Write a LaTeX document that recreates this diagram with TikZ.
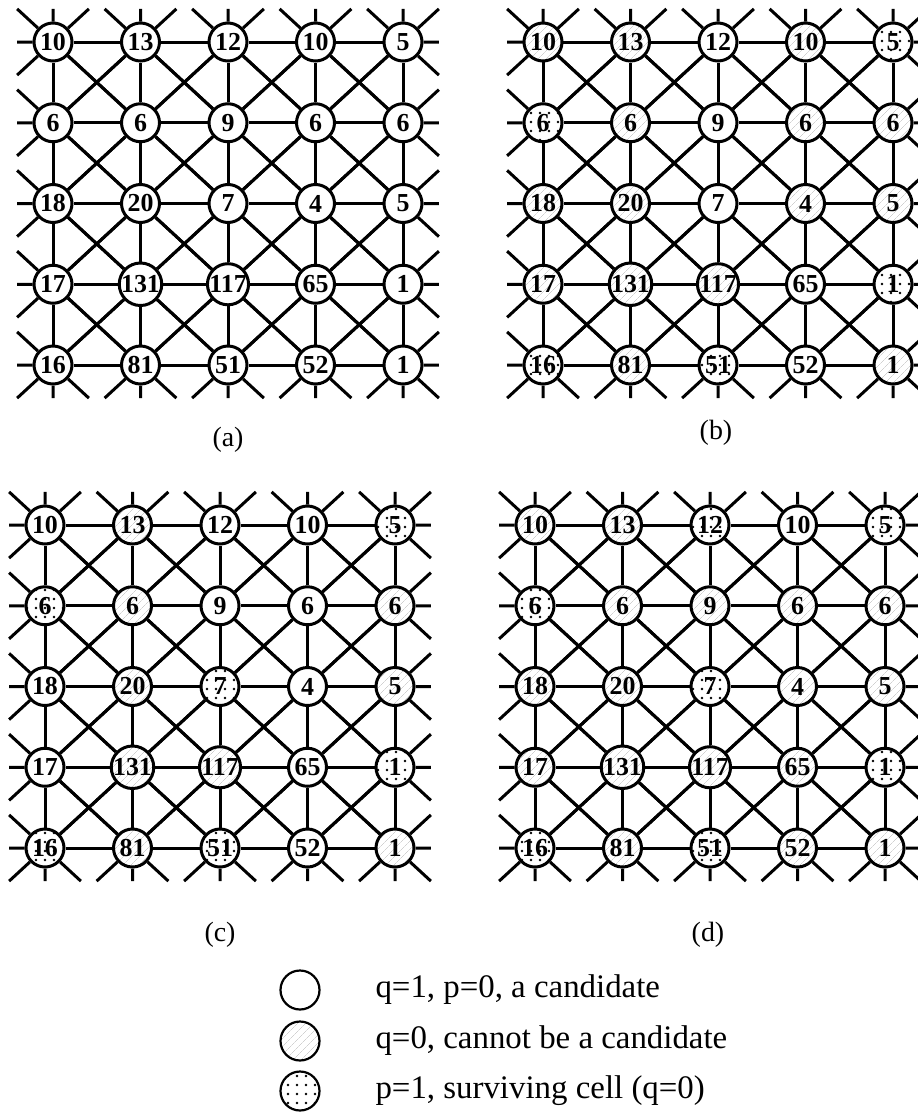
\documentclass[tikz,border=0pt]{standalone}
\usepackage{fontspec}
\setmainfont{Liberation Serif}
\usetikzlibrary{calc,patterns.meta}

\begin{document}
\begin{tikzpicture}[x=1bp, y=-1bp,
  wire/.style={line width=3bp},
  cell/.style={circle, draw, line width=3bp, minimum size=38bp, inner sep=0pt,
    fill=white, font=\fontsize{26}{26}\selectfont\bfseries},
  hatch/.style={preaction={fill=white},
    pattern={Lines[angle=45,distance=6bp,line width=0.4bp]}, pattern color=gray!55},
  speckle/.style={preaction={fill=white},
    pattern={Dots[distance=9bp,radius=1.4bp]}, pattern color=black},
  cand/.style={cell},
  nocand/.style={cell, hatch},
  surv/.style={cell, speckle},
  key/.style={circle, draw, line width=2.2bp, minimum size=39bp, inner sep=0pt},
  caption/.style={font=\fontsize{28}{28}\selectfont},
  legend/.style={anchor=west, font=\fontsize{33}{33}\selectfont}]

\useasboundingbox (0,0) rectangle (918,1112);

% Grid points, the border ones are only free ends for the stubs
\foreach \g/\ox/\oy in {a/53/42, b/543/42, c/45/525, d/535/525}
  \foreach \r in {0,...,6}
    \foreach \c in {0,...,6}
      \coordinate (\g\r\c) at ({\ox+(\c-1)*87.5},{\oy+(\r-1)*80.75});

% (a) every cell is a candidate
\foreach \v/\s [count=\k from 0] in {10/cand,13/cand,12/cand,10/cand,5/cand,
    6/cand,6/cand,9/cand,6/cand,6/cand, 18/cand,20/cand,7/cand,4/cand,5/cand,
    17/cand,131/cand,117/cand,65/cand,1/cand, 16/cand,81/cand,51/cand,52/cand,1/cand}
{
    \pgfmathtruncatemacro\r{int(\k/5)+1}
    \pgfmathtruncatemacro\c{mod(\k,5)+1}
    \node[\s] (a\r\c) at ({53+(\c-1)*87.5},{42+(\r-1)*80.75}) {\v};
}

% (b)
\foreach \v/\s [count=\k from 0] in {10/nocand,13/nocand,12/cand,10/nocand,5/surv,
    6/surv,6/nocand,9/cand,6/nocand,6/nocand, 18/nocand,20/nocand,7/cand,4/nocand,5/nocand,
    17/nocand,131/nocand,117/nocand,65/cand,1/surv, 16/surv,81/nocand,51/surv,52/cand,1/nocand}
{
    \pgfmathtruncatemacro\r{int(\k/5)+1}
    \pgfmathtruncatemacro\c{mod(\k,5)+1}
    \node[\s] (b\r\c) at ({543+(\c-1)*87.5},{42+(\r-1)*80.75}) {\v};
}

% (c)
\foreach \v/\s [count=\k from 0] in {10/cand,13/nocand,12/cand,10/cand,5/surv,
    6/surv,6/nocand,9/cand,6/cand,6/nocand, 18/cand,20/nocand,7/surv,4/cand,5/nocand,
    17/cand,131/nocand,117/nocand,65/cand,1/surv, 16/surv,81/nocand,51/surv,52/cand,1/nocand}
{
    \pgfmathtruncatemacro\r{int(\k/5)+1}
    \pgfmathtruncatemacro\c{mod(\k,5)+1}
    \node[\s] (c\r\c) at ({45+(\c-1)*87.5},{525+(\r-1)*80.75}) {\v};
}

% (d)
\foreach \v/\s [count=\k from 0] in {10/nocand,13/nocand,12/surv,10/cand,5/surv,
    6/surv,6/nocand,9/nocand,6/nocand,6/nocand, 18/nocand,20/nocand,7/surv,4/nocand,5/nocand,
    17/nocand,131/nocand,117/nocand,65/nocand,1/surv, 16/surv,81/nocand,51/surv,52/nocand,1/nocand}
{
    \pgfmathtruncatemacro\r{int(\k/5)+1}
    \pgfmathtruncatemacro\c{mod(\k,5)+1}
    \node[\s] (d\r\c) at ({535+(\c-1)*87.5},{525+(\r-1)*80.75}) {\v};
}

% Links to all eight neighbours, a stub where the neighbour is off the grid
\foreach \g in {a,b,c,d}
  \foreach \r in {1,...,5}
    \foreach \c in {1,...,5}
      \foreach \dr/\dc in {0/1,1/0,1/1,1/-1,0/-1,-1/0,-1/-1,-1/1}
      {
        \pgfmathtruncatemacro\rr{\r+\dr}
        \pgfmathtruncatemacro\cc{\c+\dc}
        \pgfmathtruncatemacro\off{(\rr<1)||(\rr>5)||(\cc<1)||(\cc>5)}
        \ifnum\off=1
          \draw[wire] (\g\r\c) -- ($(\g\r\c)!0.41!(\g\rr\cc)$);
        \else
          \draw[wire] (\g\r\c) -- (\g\rr\cc);
        \fi
      }

% Captions
\node[caption] (capa) at (228,440) {(a)};
\node[caption] (capb) at (716,433) {(b)};
\node[caption] (capc) at (220,935) {(c)};
\node[caption] (capd) at (708,935) {(d)};

% Legend
\node[key] (key1) at (300,990) {};
\node[key, hatch] (key2) at (300,1041) {};
\node[key, speckle] (key3) at (300,1091) {};
\node[legend] at (372,990) {q=1, p=0, a candidate};
\node[legend] at (372,1041) {q=0, cannot be a candidate};
\node[legend] at (372,1091) {p=1, surviving cell (q=0)};

\end{tikzpicture}
\end{document}
